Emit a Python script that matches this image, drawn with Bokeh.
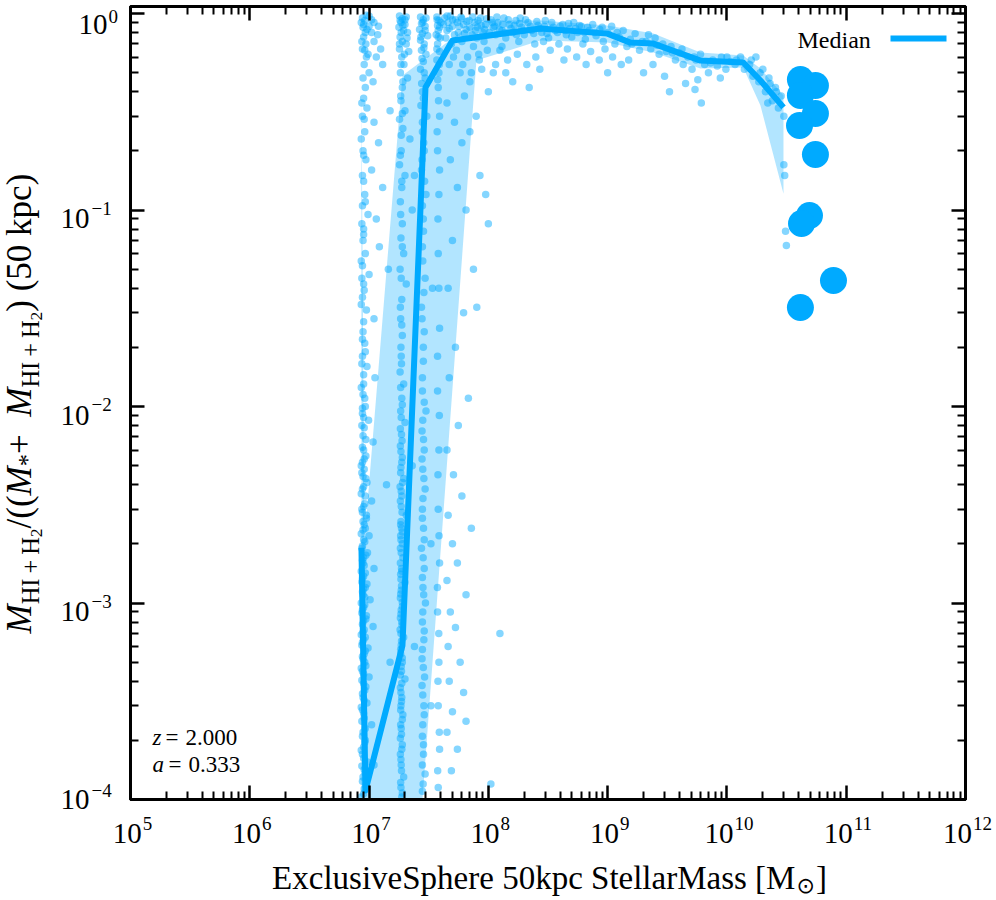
import math
from bokeh.plotting import figure
from bokeh.layouts import row, column
from bokeh.models import (Range1d, FixedTicker, CustomJSTickFormatter, LogAxis,
                          Label, BoxAnnotation)
from bokeh.embed import file_html
from bokeh.resources import INLINE

# ---------------- data ----------------
column_1 = [
    (8.8e6, 0.95), (9.2e6, 0.92), (1.0e7, 0.97), (1.1e7, 0.9), (8.9e6, 0.85), (9.6e6, 0.83),
    (1.05e7, 0.8), (1.2e7, 0.86), (9.0e6, 0.76), (9.4e6, 0.7), (1.1e7, 0.72), (8.8e6, 0.66),
    (9.8e6, 0.62), (1.15e7, 0.6), (9.1e6, 0.55), (1.0e7, 0.5), (8.9e6, 0.47), (1.25e7, 0.66),
    (9.3e6, 0.42), (1.08e7, 0.45), (9.0e6, 0.88), (9.5e6, 0.98), (1.18e7, 0.78), (1.3e7, 0.55),
    (8.7e6, 0.35), (9.1e6, 0.29), (8.6e6, 0.23), (9.0e6, 0.19), (8.8e6, 0.15), (9.3e6, 0.11),
    (8.7e6, 0.085), (9.0e6, 0.075), (8.6e6, 0.055), (9.5e6, 0.6), (8.7e6, 0.72), (9.3e6, 0.8),
    (8.6e6, 0.9), (1.0e7, 0.86), (9.2e6, 0.65), (1.05e7, 0.93),
    (9.0e6, 0.37), (9.6e6, 0.33), (8.8e6, 0.3), (1.1e7, 0.28), (9.2e6, 0.25), (1.2e7, 0.22),
    (8.9e6, 0.2), (9.4e6, 0.18), (1.05e7, 0.16), (9.0e6, 0.14), (1.3e7, 0.13), (9.2e6, 0.12),
    (8.8e6, 0.105), (9.8e6, 0.095), (1.15e7, 0.09), (9.0e6, 0.08), (8.9e6, 0.07), (1.22e7, 0.065),
    (9.3e6, 0.06), (8.8e6, 0.052), (1.0e7, 0.047), (1.5e7, 0.32),
    (9.0e6, 0.042), (8.8e6, 0.036), (9.5e6, 0.031), (1.1e7, 0.028), (8.9e6, 0.024), (9.2e6, 0.021),
    (8.8e6, 0.018), (9.6e6, 0.016), (1.12e7, 0.014), (9.0e6, 0.013), (8.9e6, 0.0115), (9.3e6, 0.010),
    (8.8e6, 0.0092), (9.9e6, 0.0085), (9.1e6, 0.0078), (8.9e6, 0.0071), (1.08e7, 0.0066), (9.0e6, 0.006),
    (9.4e6, 0.0056), (8.8e6, 0.0052),
    (8.7e6, 0.045), (9.1e6, 0.039), (8.6e6, 0.033), (9.0e6, 0.027), (8.8e6, 0.022), (9.3e6, 0.019),
    (8.7e6, 0.0165), (9.0e6, 0.0145), (8.6e6, 0.0125), (9.2e6, 0.011), (8.8e6, 0.0098), (9.0e6, 0.0088),
    (8.7e6, 0.008), (9.4e6, 0.0068), (8.8e6, 0.0062), (9.1e6, 0.0054), (8.6e6, 0.005),
    (9.1e6, 4.8e-3), (8.9e6, 4.4e-3), (9.6e6, 4.1e-3), (8.8e6, 3.8e-3), (9.3e6, 3.5e-3), (1.05e7, 3.3e-3),
    (9.0e6, 3.1e-3), (8.8e6, 2.9e-3), (9.5e6, 2.7e-3), (9.1e6, 2.5e-3), (8.9e6, 2.35e-3), (1.0e7, 2.2e-3),
    (9.2e6, 2.05e-3), (8.8e6, 1.95e-3), (9.7e6, 1.8e-3), (9.0e6, 1.7e-3), (8.9e6, 1.6e-3), (1.1e7, 1.5e-3),
    (9.3e6, 1.42e-3), (8.8e6, 1.33e-3), (9.6e6, 1.25e-3), (9.0e6, 1.18e-3), (8.9e6, 1.1e-3), (1.02e7, 1.04e-3),
    (9.2e6, 9.8e-4), (8.8e6, 9.2e-4), (9.5e6, 8.6e-4), (9.0e6, 8.1e-4), (1.08e7, 7.6e-4), (8.9e6, 7.1e-4),
    (9.3e6, 6.7e-4), (8.8e6, 6.3e-4), (9.8e6, 5.9e-4), (9.1e6, 5.5e-4), (8.9e6, 5.2e-4), (9.4e6, 4.8e-4),
    (8.8e6, 4.5e-4), (1.0e7, 4.2e-4), (9.0e6, 3.9e-4), (9.2e6, 3.6e-4), (8.9e6, 3.3e-4), (9.6e6, 3.1e-4),
    (8.8e6, 2.85e-4), (9.1e6, 2.6e-4), (1.05e7, 2.4e-4), (8.9e6, 2.2e-4), (9.3e6, 2.0e-4), (9.0e6, 1.85e-4),
    (8.8e6, 1.7e-4), (9.7e6, 1.55e-4), (9.1e6, 1.42e-4), (8.9e6, 1.3e-4), (9.4e6, 1.18e-4), (9.0e6, 1.07e-4),
    (1.1e7, 1.5e-4),
    (8.7e6, 4.6e-3), (9.4e6, 4.3e-3), (9.0e6, 3.9e-3), (8.6e6, 3.6e-3), (9.2e6, 3.2e-3), (8.7e6, 3.0e-3),
    (9.5e6, 2.8e-3), (8.9e6, 2.6e-3), (9.3e6, 2.4e-3), (8.6e6, 2.25e-3), (9.0e6, 2.1e-3), (8.7e6, 1.9e-3),
    (9.4e6, 1.75e-3), (8.8e6, 1.65e-3), (9.1e6, 1.55e-3), (8.6e6, 1.45e-3), (9.0e6, 1.37e-3), (8.7e6, 1.28e-3),
    (9.3e6, 1.2e-3), (8.8e6, 1.14e-3), (9.2e6, 1.07e-3), (8.6e6, 1.0e-3), (9.0e6, 9.5e-4), (8.7e6, 8.9e-4),
    (9.4e6, 8.3e-4), (8.8e6, 7.8e-4), (9.1e6, 7.3e-4), (8.6e6, 6.9e-4), (9.0e6, 6.5e-4), (8.7e6, 6.1e-4),
    (9.3e6, 5.7e-4), (8.8e6, 5.35e-4), (9.2e6, 5.0e-4), (8.6e6, 4.65e-4), (9.0e6, 4.35e-4), (8.7e6, 4.05e-4),
    (9.4e6, 3.75e-4), (8.8e6, 3.45e-4), (9.1e6, 3.2e-4), (8.6e6, 2.95e-4), (9.0e6, 2.75e-4), (8.7e6, 2.5e-4),
    (9.3e6, 2.3e-4), (8.8e6, 2.1e-4), (9.2e6, 1.95e-4), (8.6e6, 1.78e-4), (9.0e6, 1.62e-4), (8.7e6, 1.48e-4),
    (9.3e6, 1.36e-4), (8.8e6, 1.24e-4), (9.1e6, 1.13e-4), (8.6e6, 1.03e-4),
]
column_2 = [
    (1.8e7, 0.97), (1.9e7, 0.94), (2.05e7, 0.96), (1.85e7, 0.9), (2.0e7, 0.88), (1.78e7, 0.85),
    (1.95e7, 0.82), (2.1e7, 0.8), (1.82e7, 0.76), (1.9e7, 0.72), (2.05e7, 0.7), (1.8e7, 0.66),
    (2.15e7, 0.64), (1.88e7, 0.6), (1.96e7, 0.55), (1.83e7, 0.5), (2.1e7, 0.47), (1.9e7, 0.42),
    (1.82e7, 0.92), (1.92e7, 0.87), (2.0e7, 0.93), (1.86e7, 0.8), (2.08e7, 0.75), (1.8e7, 0.7),
    (1.98e7, 0.62), (1.85e7, 0.55), (1.92e7, 0.45), (1.84e7, 0.38), (1.9e7, 0.31), (1.86e7, 0.24),
    (1.83e7, 0.19), (1.88e7, 0.14), (1.84e7, 0.095), (1.9e7, 0.065), (1.86e7, 0.045), (1.83e7, 0.032),
    (1.88e7, 0.026), (1.85e7, 0.02),
    (1.85e7, 0.36), (2.0e7, 0.32), (1.8e7, 0.29), (1.92e7, 0.26), (2.2e7, 0.23), (1.86e7, 0.2),
    (1.8e7, 0.17), (2.0e7, 0.15), (1.88e7, 0.13), (1.83e7, 0.11), (2.3e7, 0.1), (1.9e7, 0.085),
    (1.85e7, 0.072), (1.95e7, 0.06), (1.82e7, 0.05), (2.05e7, 0.042), (1.88e7, 0.035), (1.84e7, 0.028),
    (1.9e7, 0.023),
    (1.86e7, 0.018), (1.82e7, 0.015), (1.95e7, 0.013), (1.88e7, 0.011), (1.84e7, 0.0095), (2.0e7, 0.0083),
    (1.87e7, 0.0072), (1.83e7, 0.0063), (1.9e7, 0.0055), (1.85e7, 0.0049), (1.95e7, 0.0043), (1.82e7, 0.0039),
    (1.88e7, 0.0035), (1.86e7, 0.0031), (2.05e7, 0.0028), (1.84e7, 0.0025), (1.9e7, 0.0023), (1.85e7, 0.0021),
    (1.83e7, 0.0019), (1.92e7, 0.0017), (1.87e7, 0.0015), (1.84e7, 0.0014), (2.0e7, 0.00127), (1.86e7, 0.00116),
    (1.83e7, 0.00106), (1.9e7, 9.6e-4), (1.85e7, 8.8e-4), (1.88e7, 8.0e-4), (1.82e7, 7.3e-4), (1.95e7, 6.7e-4),
    (1.86e7, 6.1e-4), (1.84e7, 5.5e-4), (1.9e7, 5.0e-4), (1.87e7, 4.5e-4), (2.0e7, 4.1e-4), (1.83e7, 3.7e-4),
    (1.88e7, 3.3e-4), (1.85e7, 3.0e-4), (1.92e7, 2.7e-4), (1.84e7, 2.4e-4), (1.87e7, 2.15e-4), (1.9e7, 1.9e-4),
    (1.83e7, 1.7e-4), (1.86e7, 1.5e-4), (1.95e7, 1.3e-4), (1.85e7, 1.15e-4), (1.88e7, 1.03e-4),
    (1.87e7, 0.0165), (1.84e7, 0.0125), (1.9e7, 0.0102), (1.86e7, 0.0088), (1.83e7, 0.0077), (1.89e7, 0.0067),
    (1.85e7, 0.0059), (1.88e7, 0.0052), (1.84e7, 0.0046), (1.91e7, 0.0041), (1.86e7, 0.0037), (1.83e7, 0.0033),
    (1.89e7, 0.0029), (1.85e7, 0.0026), (1.87e7, 0.0024), (1.84e7, 0.0022), (1.9e7, 0.002), (1.86e7, 0.0018),
    (1.83e7, 0.0016), (1.88e7, 0.00145), (1.85e7, 0.00132), (1.87e7, 0.00122), (1.84e7, 0.00111), (1.9e7, 0.00101),
    (1.86e7, 9.2e-4), (1.83e7, 8.4e-4), (1.89e7, 7.7e-4), (1.85e7, 7.0e-4), (1.87e7, 6.4e-4), (1.84e7, 5.8e-4),
    (1.9e7, 5.25e-4), (1.86e7, 4.75e-4), (1.83e7, 4.3e-4), (1.88e7, 3.9e-4), (1.85e7, 3.5e-4), (1.87e7, 3.15e-4),
    (1.84e7, 2.85e-4), (1.9e7, 2.55e-4), (1.86e7, 2.3e-4), (1.83e7, 2.05e-4), (1.88e7, 1.8e-4), (1.85e7, 1.6e-4),
    (1.87e7, 1.4e-4), (1.84e7, 1.22e-4), (1.9e7, 1.08e-4),
]
column_3 = [
    (2.7e7, 0.96), (2.85e7, 0.93), (3.0e7, 0.95), (2.75e7, 0.89), (2.95e7, 0.86), (2.65e7, 0.83),
    (2.8e7, 0.79), (3.1e7, 0.77), (2.7e7, 0.73), (2.9e7, 0.7), (2.75e7, 0.65), (3.0e7, 0.62),
    (2.85e7, 0.57), (2.7e7, 0.52), (2.95e7, 0.47), (2.8e7, 0.4), (2.72e7, 0.34), (3.05e7, 0.3),
    (2.8e7, 0.25), (2.9e7, 0.2), (2.75e7, 0.16), (3.0e7, 0.12), (2.85e7, 0.09), (2.8e7, 0.065),
    (2.95e7, 0.045), (2.75e7, 0.032), (2.9e7, 0.024), (2.85e7, 0.017), (2.8e7, 0.012), (3.0e7, 0.0095),
    (2.78e7, 0.0075), (2.9e7, 0.006), (2.82e7, 0.0048), (2.95e7, 0.0038), (2.8e7, 0.003), (2.86e7, 0.0024),
    (2.75e7, 0.0019), (2.9e7, 0.0015), (2.83e7, 0.0012), (2.97e7, 0.001), (2.8e7, 8e-4), (2.88e7, 6.5e-4),
    (2.78e7, 5.2e-4), (2.92e7, 4.2e-4), (2.82e7, 3.4e-4), (2.9e7, 2.7e-4), (2.8e7, 2.1e-4), (2.86e7, 1.7e-4),
    (2.95e7, 1.35e-4), (2.8e7, 1.1e-4),
    (2.82e7, 0.9), (2.95e7, 0.82), (2.72e7, 0.76), (2.88e7, 0.67), (2.78e7, 0.59), (2.9e7, 0.5),
    (2.76e7, 0.44), (2.85e7, 0.37), (2.8e7, 0.28), (2.87e7, 0.22), (2.78e7, 0.18), (2.92e7, 0.14),
    (2.8e7, 0.105), (2.86e7, 0.078), (2.82e7, 0.055), (2.88e7, 0.038), (2.78e7, 0.028), (2.85e7, 0.02),
    (2.8e7, 0.014), (2.9e7, 0.0105), (2.82e7, 0.0085), (2.86e7, 0.0068), (2.78e7, 0.0054), (2.88e7, 0.0043),
    (2.83e7, 0.0034), (2.8e7, 0.0027), (2.9e7, 0.0021), (2.84e7, 0.0017), (2.8e7, 0.00135), (2.87e7, 0.0011),
    (2.82e7, 9e-4), (2.9e7, 7.2e-4), (2.8e7, 5.8e-4), (2.85e7, 4.7e-4), (2.78e7, 3.8e-4), (2.88e7, 3.0e-4),
    (2.82e7, 2.4e-4), (2.86e7, 1.9e-4), (2.8e7, 1.5e-4), (2.84e7, 1.2e-4),
]
column_4 = [
    (3.7e7, 0.96), (3.85e7, 0.92), (3.75e7, 0.87), (4.0e7, 0.9), (3.8e7, 0.82), (3.65e7, 0.78),
    (3.95e7, 0.75), (3.75e7, 0.7), (3.9e7, 0.64), (3.7e7, 0.58), (3.85e7, 0.5), (3.8e7, 0.42),
    (3.9e7, 0.3), (3.75e7, 0.2), (3.85e7, 0.12), (3.8e7, 0.06), (3.9e7, 0.025), (3.75e7, 0.012),
    (3.85e7, 0.006), (3.8e7, 0.003), (3.9e7, 0.0016), (3.75e7, 9e-4), (3.85e7, 5e-4), (3.8e7, 3e-4),
    (3.9e7, 1.8e-4), (3.8e7, 1.15e-4),
    (3.72e7, 0.93), (3.9e7, 0.85), (3.8e7, 0.76), (3.7e7, 0.66), (3.88e7, 0.55), (3.76e7, 0.46),
    (3.82e7, 0.36), (3.72e7, 0.25), (3.9e7, 0.16), (3.78e7, 0.09), (3.85e7, 0.04), (3.75e7, 0.018),
    (3.88e7, 0.009), (3.78e7, 0.0045), (3.86e7, 0.0022), (3.74e7, 0.0012), (3.84e7, 7e-4), (3.78e7, 4e-4),
    (3.88e7, 2.2e-4), (3.76e7, 1.4e-4),
]
scattered = [
    (4.5e7, 0.35), (5.2e7, 0.28), (6.0e7, 0.22), (4.8e7, 0.18), (7.0e7, 0.25), (5.5e7, 0.13),
    (8.5e7, 0.15), (6.5e7, 0.1), (9.5e7, 0.12), (1.0e8, 0.085), (5.0e7, 0.07), (7.5e7, 0.05),
    (4.6e7, 0.04), (6.2e7, 0.03), (8.0e7, 0.032), (5.3e7, 0.02), (4.7e7, 0.014), (6.8e7, 0.011),
    (5.6e7, 0.008), (4.5e7, 0.006), (5.1e7, 0.0045), (6.0e7, 0.0035), (4.6e7, 0.0028), (7.2e7, 0.0024),
    (5.0e7, 0.002), (5.5e7, 0.0016), (4.5e7, 0.0013), (6.5e7, 0.0011), (4.8e7, 9e-4), (5.3e7, 7.5e-4),
    (1.25e8, 7e-4), (4.6e7, 6e-4), (5.8e7, 5e-4), (4.7e7, 4e-4), (6.2e7, 3.5e-4), (5.0e7, 2.8e-4),
    (4.5e7, 2.2e-4), (5.5e7, 1.8e-4), (4.9e7, 1.4e-4), (1.05e8, 1.2e-4), (6.5e7, 2.5e-4), (2.3e7, 0.005),
    (2.4e7, 6e-4), (3.3e7, 0.002), (3.4e7, 0.04), (2.4e7, 0.15), (1.45e7, 0.05), (1.4e7, 0.004),
    (1.5e7, 5e-4), (3.3e7, 3e-4),
]
gas_rich = [
    (4.3e7, 0.95), (4.6e7, 0.9), (4.8e7, 0.97), (5.0e7, 0.86), (5.3e7, 0.93), (5.6e7, 0.8),
    (5.9e7, 0.96), (6.2e7, 0.88), (6.5e7, 0.83), (6.9e7, 0.92), (7.3e7, 0.78), (7.7e7, 0.9),
    (8.1e7, 0.85), (8.6e7, 0.95), (9.0e7, 0.8), (9.5e7, 0.88), (4.4e7, 0.75), (4.9e7, 0.7),
    (5.4e7, 0.65), (6.0e7, 0.72), (6.7e7, 0.6), (7.5e7, 0.68), (8.3e7, 0.62), (9.2e7, 0.72),
    (4.7e7, 0.55), (5.8e7, 0.5), (7.0e7, 0.45), (8.8e7, 0.52), (1.0e8, 0.4), (6.3e7, 0.38),
    (5.1e7, 0.6), (4.5e7, 0.82), (8.0e7, 0.75), (9.8e7, 0.65), (7.9e7, 0.3),
    (1.05e8, 0.93), (1.1e8, 0.85), (1.15e8, 0.78), (1.2e8, 0.9), (1.3e8, 0.82), (1.35e8, 0.95),
    (1.4e8, 0.75), (1.5e8, 0.88), (1.6e8, 0.8), (1.7e8, 0.92), (1.8e8, 0.72), (1.9e8, 0.85),
    (2.0e8, 0.78), (2.15e8, 0.9), (2.3e8, 0.82), (2.45e8, 0.7), (2.6e8, 0.87), (2.8e8, 0.8),
    (3.0e8, 0.92), (3.2e8, 0.75), (3.5e8, 0.85), (3.8e8, 0.8), (1.25e8, 0.65), (1.45e8, 0.58),
    (1.75e8, 0.62), (2.1e8, 0.55), (2.5e8, 0.6), (3.3e8, 0.65), (1.1e8, 0.5), (1.6e8, 0.45),
    (2.2e8, 0.42), (1.3e8, 0.68), (2.9e8, 0.72), (3.9e8, 0.7), (1.85e8, 0.95),
    (4.2e8, 0.88), (4.5e8, 0.78), (4.8e8, 0.84), (5.2e8, 0.9), (5.6e8, 0.8), (6.0e8, 0.86),
    (6.5e8, 0.74), (7.0e8, 0.82), (7.5e8, 0.88), (8.0e8, 0.77), (8.6e8, 0.83), (9.2e8, 0.72),
    (1.0e9, 0.8), (1.08e9, 0.86), (1.15e9, 0.7), (1.25e9, 0.76), (1.35e9, 0.82), (1.45e9, 0.68),
    (1.55e9, 0.74), (1.7e9, 0.79), (1.85e9, 0.65), (1.95e9, 0.72), (4.6e8, 0.66), (5.5e8, 0.6),
    (7.2e8, 0.64), (8.5e8, 0.58), (1.1e9, 0.6), (1.3e9, 0.55), (6.2e8, 0.7), (9.5e8, 0.66),
    (2.1e9, 0.72), (2.3e9, 0.66), (2.5e9, 0.75), (2.7e9, 0.62), (2.9e9, 0.7), (3.1e9, 0.64),
    (3.4e9, 0.68), (3.7e9, 0.58), (4.0e9, 0.63), (4.3e9, 0.55), (4.7e9, 0.6), (5.1e9, 0.52),
    (5.5e9, 0.58), (6.0e9, 0.62), (6.5e9, 0.55), (7.0e9, 0.5), (7.6e9, 0.58), (8.3e9, 0.54),
    (9.0e9, 0.6), (9.8e9, 0.52), (1.07e10, 0.57), (1.17e10, 0.55), (1.3e10, 0.6), (1.4e10, 0.52),
    (2.4e9, 0.55), (3.0e9, 0.48), (4.5e9, 0.44), (3.3e9, 0.4), (5.7e9, 0.46), (8.8e9, 0.47),
    (1.55e10, 0.55), (1.65e10, 0.48), (1.75e10, 0.6), (1.85e10, 0.45), (2.0e10, 0.52), (2.1e10, 0.4),
    (2.25e10, 0.47), (2.4e10, 0.36), (2.55e10, 0.42), (2.7e10, 0.33), (2.85e10, 0.38), (3.0e10, 0.3),
    (3.0e10, 0.17), (3.05e10, 0.15), (3.1e10, 0.078), (3.15e10, 0.066), (5.4e9, 0.41), (6.1e9, 0.35),
    (2.2e10, 0.35),
    (4.2e7, 0.88), (4.5e7, 0.97), (4.7e7, 0.84), (5.0e7, 0.93), (5.2e7, 0.78), (5.5e7, 0.9),
    (5.7e7, 0.86), (6.0e7, 0.94), (6.3e7, 0.79), (6.6e7, 0.91), (7.0e7, 0.85), (7.4e7, 0.96),
    (7.8e7, 0.82), (8.2e7, 0.92), (8.7e7, 0.87), (9.3e7, 0.83), (9.7e7, 0.94), (1.02e8, 0.8),
    (1.08e8, 0.9), (1.13e8, 0.86), (1.18e8, 0.96), (1.24e8, 0.83), (1.32e8, 0.88), (1.38e8, 0.8),
    (1.47e8, 0.93), (1.55e8, 0.84), (1.65e8, 0.87), (1.72e8, 0.78), (1.83e8, 0.89), (1.95e8, 0.82),
    (2.05e8, 0.93), (2.25e8, 0.86), (2.4e8, 0.79), (2.55e8, 0.91), (2.7e8, 0.84), (2.95e8, 0.86),
    (3.1e8, 0.79), (3.4e8, 0.9), (3.65e8, 0.82), (4.0e8, 0.86), (4.4e8, 0.82), (4.7e8, 0.89),
    (5.0e8, 0.76), (5.4e8, 0.84), (5.8e8, 0.87), (6.4e8, 0.8), (6.8e8, 0.85), (7.8e8, 0.8),
    (9.0e8, 0.85), (1.2e9, 0.8), (1.6e9, 0.7), (2.2e9, 0.78), (2.6e9, 0.69), (3.5e9, 0.63),
    (4.2e9, 0.66), (5.3e9, 0.6), (7.3e9, 0.56), (1.0e10, 0.6), (1.2e10, 0.58), (1.6e10, 0.58),
    (1.9e10, 0.5), (2.3e10, 0.44), (2.6e10, 0.4),
    (6.1e7, 0.55), (7.2e7, 0.5), (8.4e7, 0.58), (1.15e8, 0.55), (1.4e8, 0.5), (2.7e8, 0.52),
    (4.3e8, 0.58), (6.6e8, 0.55), (1.0e9, 0.5), (1.5e9, 0.58), (2.0e9, 0.5),
]
median_mass = [8.63e6, 9.33e6, 1.905e7, 2.97e7, 5.0e7, 2.73e8, 9.95e8, 1.55e9, 2.42e9,
               6.0e9, 1.37e10, 1.91e10, 2.98e10]
median_frac = [1.91e-3, 1.11e-4, 6.08e-4, 0.42, 0.729, 0.839, 0.79, 0.711, 0.703,
               0.576, 0.563, 0.456, 0.333]
band_mass = [8.63e6, 9.14e6, 1.905e7, 7.94e7, 2.73e8, 9.95e8, 2.42e9, 6.0e9, 1.37e10, 1.91e10, 2.98e10]
band_low = [1e-6, 1e-6, 4e-6, 0.576, 0.729, 0.711, 0.634, 0.525, 0.531, 0.34, 0.121]
band_high = [0.392, 2.08e-3, 0.483, 0.921, 0.921, 0.869, 0.79, 0.634, 0.611, 0.525, 0.383]
big_mass = [4.13e10, 5.52e10, 4.13e10, 5.52e10, 4.06e10, 5.52e10, 4.92e10, 4.22e10, 7.82e10, 4.13e10]
big_frac = [0.461, 0.430, 0.383, 0.310, 0.269, 0.1916, 0.0937, 0.0853, 0.0438, 0.0319]

x_decades = [5, 6, 7, 8, 9, 10, 11, 12]
y_decades = [-4, -3, -2, -1, 0]
redshift_text = "2.000"
scale_text = "0.333"
legend_text = "Median"
x_label = "ExclusiveSphere 50kpc StellarMass [M"
COLOR = "#00aaff"
SERIF = "Liberation Serif"

# ---------------- geometry (page pixels) ----------------
FRAME_L, FRAME_R, FRAME_T, FRAME_B = 130, 965, 6, 799
LEFT_W = 124            # width of the left text strip
PAD = 6                 # left border of the main figure
SPLIT = 813             # top row ends here, bottom text strip starts here
BASE_K = 0.36           # Bokeh puts the alphabetic anchor this many em below the baseline

# ---------------- main figure ----------------
YTOP = 4 * (FRAME_B - FRAME_T) / 786 - 4
p = figure(x_axis_type="log", y_axis_type="log", title=None,
           x_range=Range1d(1e5, 1e12), y_range=Range1d(1e-4, 10 ** YTOP),
           frame_width=FRAME_R - FRAME_L, frame_height=FRAME_B - FRAME_T,
           min_border_left=PAD, min_border_right=996 - FRAME_R, min_border_top=FRAME_T,
           min_border_bottom=SPLIT - FRAME_B, output_backend="svg", toolbar_location=None)
p.add_layout(LogAxis(), "above")
p.add_layout(LogAxis(), "right")
p.grid.visible = False
p.outline_line_color = "black"
p.outline_line_width = 3
p.background_fill_color = "white"
p.border_fill_color = "white"

xt = [10.0 ** n for n in x_decades]
xm = [k * 10.0 ** n for n in x_decades[:-1] for k in range(2, 10)]
yt = [10.0 ** n for n in y_decades]
ym = [k * 10.0 ** n for n in y_decades[:-1] for k in range(2, 10)]
for ax in p.xaxis:
    ax.ticker = FixedTicker(ticks=xt, minor_ticks=xm)
for ax in p.yaxis:
    ax.ticker = FixedTicker(ticks=yt, minor_ticks=ym)
for ax in p.axis:
    ax.formatter = CustomJSTickFormatter(code="return '';")
    ax.major_label_text_font_size = "0px"
    ax.major_label_standoff = 0
    ax.axis_line_color = "black"
    ax.axis_line_width = 3
    ax.major_tick_in = 14
    ax.major_tick_out = 0
    ax.minor_tick_in = 8
    ax.minor_tick_out = 0
    ax.major_tick_line_width = 2.5
    ax.minor_tick_line_width = 2
    ax.major_tick_line_color = "black"
    ax.minor_tick_line_color = "black"

for grp in (column_1, column_2, column_3, column_4, scattered, gas_rich):
    gx = [a for a, b in grp]
    gy = [b for a, b in grp]
    p.scatter(gx, gy, size=7.5, fill_color=COLOR, fill_alpha=0.48, line_color=None)

p.varea(x=band_mass, y1=band_low, y2=band_high, fill_color=COLOR, fill_alpha=0.3)
p.line(median_mass, median_frac, line_color=COLOR, line_width=6, line_join="round")
p.scatter(big_mass, big_frac, size=27, fill_color=COLOR, fill_alpha=1.0, line_color=None)


def xd(px):
    return 10 ** (5 + (px - FRAME_L) * 7 / (FRAME_R - FRAME_L))


def yd(py):
    return 10 ** (-4 + (FRAME_B - py) * 4 / 786)


def lab(fig, text, x, y, size, italic=False, align="left", angle=0.0, font=SERIF):
    fig.add_layout(Label(x=x, y=y, text=text, text_font=font,
                         text_font_size=f"{size}px",
                         text_font_style="italic" if italic else "normal",
                         text_align=align, text_baseline="alphabetic",
                         angle=angle, text_color="black"))


def pin(text, px, py, size, **kw):
    """label inside the main frame, (px, py) = baseline start in page pixels"""
    lab(p, text, xd(px), yd(py - BASE_K * size), size, **kw)


pin("z", 152, 745, 23, italic=True)
pin("=", 165, 745, 23)
pin(redshift_text, 185, 745, 23)
pin("a", 152, 772, 23, italic=True)
pin("=", 168, 772, 23)
pin(scale_text, 188, 772, 23)
pin(legend_text, 797, 48, 24)
p.add_layout(BoxAnnotation(left=xd(890), right=xd(946), top=yd(35), bottom=yd(41),
                           fill_color=COLOR, fill_alpha=1.0, line_color=None))

# ---------------- text strips (data units = page pixels, y measured up from page bottom) ----
def strip(x0, y_top, w, h):
    f = figure(frame_width=w, frame_height=h, title=None,
               x_range=Range1d(x0, x0 + w), y_range=Range1d(900 - y_top - h, 900 - y_top),
               min_border_left=0, min_border_right=0, min_border_top=0, min_border_bottom=0,
               x_axis_location=None, y_axis_location=None,
               output_backend="svg", toolbar_location=None)
    f.grid.visible = False
    f.outline_line_color = None
    f.background_fill_color = "white"
    f.border_fill_color = "white"
    return f


left = strip(0, 0, LEFT_W, SPLIT)
bottom = strip(0, SPLIT, 996, 900 - SPLIT)


def pl(fig, text, px, py, size, angle=0.0, **kw):
    """(px, py) = baseline start in page pixels"""
    if angle:
        px -= BASE_K * size
    else:
        py -= BASE_K * size
    lab(fig, text, px, 900 - py, size, angle=angle, **kw)


TW = {' ': 250, '\u2009': 200, '(': 333, ')': 333, '*': 500, '+': 564, '/': 278, '.': 250,
      '[': 333, ']': 333, 'E': 611, 'H': 722, 'I': 333, 'M': 889, 'S': 556, 'a': 444,
      'c': 444, 'e': 444, 'h': 500, 'i': 278, 'k': 500, 'l': 278, 'p': 500, 'r': 333,
      's': 389, 't': 278, 'u': 500, 'v': 500, 'x': 500}
TWI = {'M': 833}


def tw(s, size, italic=False):
    tab = TWI if italic else TW
    return sum(tab.get(c, 500) for c in s) * size / 1000.0


# y tick labels
for n in y_decades:
    t = FRAME_B - (n + 4) * 196.5
    if n == -4:
        pl(left, "10", 89, t + 4.5, 29, align="right")
        pl(left, "\u2212" + str(-n), 91, t - 8.5, 19)
    elif n < 0:
        pl(left, "10", 89, t + 13, 29, align="right")
        pl(left, "\u2212" + str(-n), 91, t - 1, 19)
    else:
        pl(left, "10", 107, t + 15, 29, align="right")
        pl(left, str(n), 108, t + 4, 19)

# y axis label (rotated, built from pieces)
FM, FS, FSS = 35, 24.5, 17.5
base = 31.5
sub = "HI\u2009+\u2009H"
pieces = [
    ("M", FM, True, 0), (sub, FS, False, 7), ("2", FSS, False, 11),
    ("/((", FM, False, 0), ("M", FM, True, 0), ("*", FS, False, 4),
    (" + ", FM, False, 0), ("M", FM, True, 0), (sub, FS, False, 7),
    ("2", FSS, False, 11), (") (50 kpc)", FM, False, 0),
]
ypos = 627
for text, size, it, shift in pieces:
    pl(left, text, base + shift, ypos, size, italic=it, angle=math.pi / 2)
    ypos -= tw(text, size, it)

# x tick labels
for n in x_decades:
    t = FRAME_L + (n - 5) * (FRAME_R - FRAME_L) / 7
    e = str(n)
    w = 30 + 9.5 * len(e)
    lft = t + 2 - w / 2
    pl(bottom, "10", lft, 843, 29)
    pl(bottom, e, lft + 30, 830, 19)

# x axis label
F = 33
wmain = tw(x_label, F)
wsun = 0.838 * 22
wtot = wmain + 1 + wsun + 1 + tw("]", F)
xl = 549 - wtot / 2
pl(bottom, x_label, xl, 889, F)
pl(bottom, "\u2299", xl + wmain + 1, 893, 22, font="DejaVu Sans")
pl(bottom, "]", xl + wmain + 2 + wsun, 889, F)

layout = column(row(left, p), bottom)
open("out.html", "w").write(file_html(layout, INLINE))
